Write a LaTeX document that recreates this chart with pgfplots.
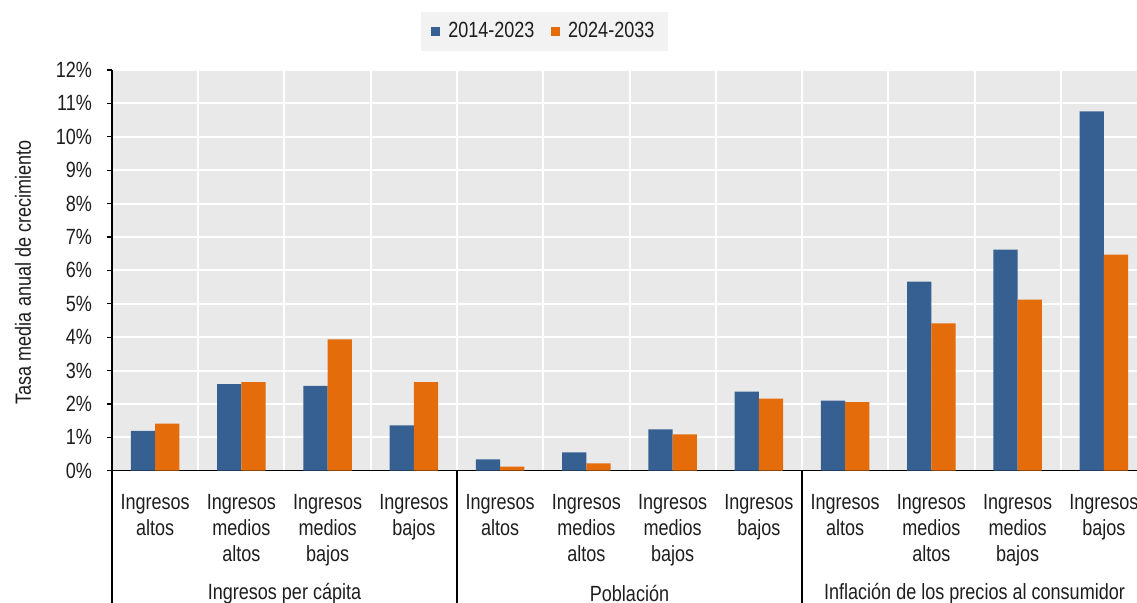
\documentclass[border=0pt]{standalone}
\usepackage{pgfplots}
\pgfplotsset{compat=1.18}
\usepackage{fontspec}
\setmainfont[FakeStretch=0.82]{Liberation Sans}
\definecolor{cblue}{RGB}{54,96,146}
\definecolor{corange}{RGB}{228,108,10}
\definecolor{bggrey}{RGB}{233,233,233}
\definecolor{leggrey}{RGB}{242,242,242}
\definecolor{txt}{RGB}{30,30,30}
\begin{document}
\begin{tikzpicture}
\begin{axis}[
  scale only axis,
  width=512.5pt, height=200.35pt,
  xmin=-0.5, xmax=11.384,
  ymin=0, ymax=12,
  ybar=0pt, bar width=0.28,
  axis background/.style={fill=bggrey},
  axis lines*=left,
  axis line style={black, line width=0.8pt},
  clip=false,
  font=\fontsize{11pt}{13pt}\selectfont,
  every tick label/.append style={text=txt},
  ytick={0,1,...,12},
  yticklabels={0\%,1\%,2\%,3\%,4\%,5\%,6\%,7\%,8\%,9\%,10\%,11\%,12\%},
  ytick pos=left, tick align=outside,
  major tick length=2.5pt,
  ytick style={black, line width=0.6pt},
  yticklabel style={xshift=-4pt},
  ymajorgrids, major grid style={white, line width=1pt},
  xtick={0,...,11},
  xtick style={draw=none},
  xticklabels={
    Ingresos\\altos, Ingresos\\medios\\altos, Ingresos\\medios\\bajos, Ingresos\\bajos,
    Ingresos\\altos, Ingresos\\medios\\altos, Ingresos\\medios\\bajos, Ingresos\\bajos,
    Ingresos\\altos, Ingresos\\medios\\altos, Ingresos\\medios\\bajos, Ingresos\\bajos},
  xticklabel style={align=center, anchor=north, yshift=-6pt, font=\fontsize{11pt}{13pt}\selectfont},
  minor xtick={0.5,1.5,...,10.5},
  minor tick length=0pt,
  xminorgrids, minor grid style={white, line width=1pt},
  ylabel={Tasa media anual de crecimiento},
  ylabel style={at={(axis description cs:0,0.495)}, anchor=center, yshift=44.5pt, text=txt, font=\fontsize{11pt}{13pt}\selectfont},
  legend style={at={(0.422,1)}, anchor=south, yshift=9.5pt, legend columns=2,
    fill=leggrey, draw=none, font=\fontsize{11pt}{13pt}\selectfont, text=txt,
    /tikz/every even column/.append style={column sep=6pt}, inner xsep=5pt, inner ysep=3pt},
  legend image code/.code={\fill[#1] (0pt,-2.4pt) rectangle (4.8pt,2.4pt); \path (6.8pt,0pt);},
]
\addplot[fill=cblue, draw=none] coordinates {
 (0,1.19) (1,2.59) (2,2.54) (3,1.36)
 (4,0.34) (5,0.55) (6,1.24) (7,2.37)
 (8,2.10) (9,5.66) (10,6.62) (11,10.76)};
\addplot[fill=corange, draw=none] coordinates {
 (0,1.41) (1,2.65) (2,3.93) (3,2.65)
 (4,0.12) (5,0.22) (6,1.09) (7,2.16)
 (8,2.05) (9,4.41) (10,5.12) (11,6.47)};
\legend{2014-2023, 2024-2033}
\draw[black, line width=0.8pt] (axis cs:-0.5,0) -- ([yshift=-67pt]axis cs:-0.5,0);
\draw[black, line width=0.8pt] (axis cs:3.5,0) -- ([yshift=-67pt]axis cs:3.5,0);
\draw[black, line width=0.8pt] (axis cs:7.5,0) -- ([yshift=-67pt]axis cs:7.5,0);
\node[text=txt, font=\fontsize{11pt}{13pt}\selectfont] at ([yshift=-61.3pt]axis cs:1.5,0) {Ingresos per cápita};
\node[text=txt, font=\fontsize{11pt}{13pt}\selectfont] at ([yshift=-61.3pt]axis cs:5.5,0) {Población};
\node[text=txt, font=\fontsize{11pt}{13pt}\selectfont] at ([yshift=-61.3pt]axis cs:9.5,0) {Inflación de los precios al consumidor};
\end{axis}
\pgfresetboundingbox
\path[use as bounding box] ([xshift=-56pt,yshift=-66.15pt]current axis.south west) rectangle ([yshift=35pt]current axis.north east);
\end{tikzpicture}
\end{document}
